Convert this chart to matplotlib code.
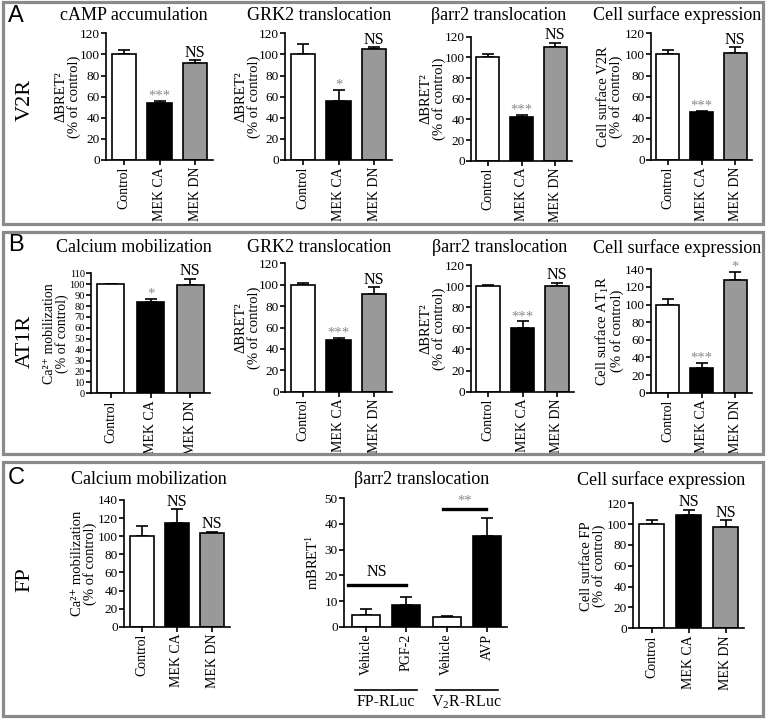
import numpy as np
import matplotlib
matplotlib.use("Agg")
import matplotlib.pyplot as plt
from matplotlib.patches import Rectangle

plt.rcParams["font.family"] = ["Liberation Serif", "DejaVu Serif"]
plt.rcParams["mathtext.fontset"] = "custom"
plt.rcParams["mathtext.rm"] = "Liberation Serif"
plt.rcParams["mathtext.it"] = "Liberation Serif:italic"

# ---- data ----
conditions = ["Control", "MEK CA", "MEK DN"]

a_camp, a_camp_err = [100, 54, 92], [4, 2, 2.5]
a_grk2, a_grk2_err = [100, 56, 105], [10, 10, 1.7]
a_barr2, a_barr2_err = [100, 42, 110], [3, 2.5, 4]
a_surface, a_surface_err = [100, 45, 101], [4, 1, 6]

b_calcium, b_calcium_err = [100, 84, 99], [0, 2.3, 6]
b_grk2, b_grk2_err = [100, 48, 91], [1.5, 2, 6.5]
b_barr2, b_barr2_err = [100, 60, 100], [1.5, 6.5, 3]
b_surface, b_surface_err = [100, 27.5, 128], [6.5, 6, 9.5]

c_calcium, c_calcium_err = [100, 115, 103], [11, 15, 2]
c_barr2_labels = ["Vehicle", "PGF-2", "Vehicle", "AVP"]
c_barr2, c_barr2_err = [4.5, 8.4, 3.7, 35.3], [2.5, 3.3, 0.3, 7.2]
c_barr2_groups = ["FP-RLuc", "V$_2$R-RLuc"]
c_surface, c_surface_err = [100, 109, 97.5], [3.5, 5, 6]

W, H = 768, 720
WHITE, BLACK, GREY = "white", "black", "#999999"
STAR = "#8a8a8a"

fig = plt.figure(figsize=(W / 100, H / 100), dpi=100)


def add_ax(l, t, r, b):
    return fig.add_axes([l / W, 1 - b / H, (r - l) / W, (b - t) / H])


def style(ax, ymax, step, labels, xlim, ytick_size):
    for s in ("top", "right"):
        ax.spines[s].set_visible(False)
    for s in ("left", "bottom"):
        ax.spines[s].set_linewidth(1.2)
    ax.set_ylim(0, ymax)
    ax.set_xlim(*xlim)
    ax.set_yticks(np.arange(0, ymax + 0.1, step))
    ax.set_xticks(np.arange(len(labels)))
    ax.set_xticklabels(labels, rotation=90)
    ax.tick_params(direction="out", length=3.5, width=1.2, pad=1.5)
    ax.tick_params(axis="y", labelsize=ytick_size, pad=1)
    ax.tick_params(axis="x", labelsize=10)


def bar_panel(ax, vals, errs, colors, ymax, step, labels, marks, ylabel, yl_off,
              xlim=(-0.5, 2.5), width=0.68, ytick_size=9.5, yl_size=10.5):
    x = np.arange(len(vals))
    ax.bar(x, vals, width=width, color=colors, edgecolor="black", linewidth=1.2, zorder=2)
    ax.errorbar(x, vals, yerr=[np.zeros(len(errs)), errs], fmt="none", ecolor="black",
                elinewidth=1.2, capsize=4.5, capthick=1.2, zorder=1)
    style(ax, ymax, step, labels, xlim, ytick_size)
    for xi, v, e, m in zip(x, vals, errs, marks):
        if not m:
            continue
        if m == "NS":
            ax.annotate(m, (xi, v + e), xytext=(0, 2.5), textcoords="offset points",
                        ha="center", va="baseline", fontsize=11.5)
        else:
            ax.annotate(m, (xi, v + e), xytext=(0, 1), textcoords="offset points",
                        ha="center", va="baseline", fontsize=10.5, color=STAR)
    bb = ax.get_position()
    ax.text(yl_off / (bb.width * W), 0.5, ylabel, transform=ax.transAxes, rotation=90,
            ha="center", va="center", multialignment="center", fontsize=yl_size,
            linespacing=0.95)


bret2 = "\u0394BRET\u00b2\n(% of control)"
calcium = "Ca\u00b2\u207a mobilization\n(% of control)"
cols3 = [WHITE, BLACK, GREY]

# ---- row A: V2R ----
bar_panel(add_ax(106, 33.3, 213, 160), a_camp, a_camp_err, cols3, 120, 20, conditions,
          ["", "***", "NS"], bret2, -38)
bar_panel(add_ax(285, 33.3, 392, 160), a_grk2, a_grk2_err, cols3, 120, 20, conditions,
          ["", "*", "NS"], bret2, -37)
bar_panel(add_ax(471, 36.7, 572, 160.7), a_barr2, a_barr2_err, cols3, 120, 20, conditions,
          ["", "***", "NS"], bret2, -38)
bar_panel(add_ax(651, 33.3, 752, 160), a_surface, a_surface_err, cols3, 120, 20, conditions,
          ["", "***", "NS"], "Cell surface V2R\n(% of control)", -41)

# ---- row B: AT1R ----
bar_panel(add_ax(91, 273.3, 210, 393.3), b_calcium, b_calcium_err, cols3, 110, 10, conditions,
          ["", "*", "NS"], calcium, -35, ytick_size=7.5, yl_size=10)
bar_panel(add_ax(285, 263.3, 392, 391.7), b_grk2, b_grk2_err, cols3, 120, 20, conditions,
          ["", "***", "NS"], bret2, -37)
bar_panel(add_ax(471, 265, 574, 391.7), b_barr2, b_barr2_err, cols3, 120, 20, conditions,
          ["", "***", "NS"], bret2, -38)
bar_panel(add_ax(651, 269.3, 752, 392.7), b_surface, b_surface_err, cols3, 140, 20, conditions,
          ["", "***", "*"], "Cell surface AT$_1$R\n(% of control)", -42)

# ---- row C: FP ----
bar_panel(add_ax(124, 500, 230, 626.7), c_calcium, c_calcium_err, cols3, 140, 20, conditions,
          ["", "NS", "NS"], calcium, -40)
ax_c2 = add_ax(344, 498.3, 507, 626.7)
bar_panel(ax_c2, c_barr2, c_barr2_err, [WHITE, BLACK, WHITE, BLACK], 50, 10, c_barr2_labels,
          ["", "", "", ""], "mBRET$^1$", -31, xlim=(-0.55, 3.5), width=0.7)
ax_c2.plot([-0.45, 1.0], [16.3, 16.3], color="black", lw=2.4)
ax_c2.text(0.28, 18.3, "NS", ha="center", va="bottom", fontsize=11.5)
ax_c2.plot([1.9, 2.98], [46, 46], color="black", lw=2.4)
ax_c2.text(2.44, 46.3, "**", ha="center", va="bottom", fontsize=10.5, color=STAR)
tr = ax_c2.get_xaxis_transform()
for gi, g in enumerate(c_barr2_groups):
    c = 0.5 + 2 * gi
    ax_c2.plot([c - 0.77, c + 0.77], [-0.49, -0.49], transform=tr, color="black",
               lw=1.2, clip_on=False)
    ax_c2.text(c, -0.59, g, transform=tr, ha="center", va="center", fontsize=11.5)
bar_panel(add_ax(633, 503.3, 744, 628.3), c_surface, c_surface_err, cols3, 120, 20, conditions,
          ["", "NS", "NS"], "Cell surface FP\n(% of control)", -40)

# ---- titles, row labels, panel letters, frames ----
titles = [
    (134, 15, "cAMP accumulation"), (319, 15, "GRK2 translocation"),
    (499, 15, "\u03b2arr2 translocation"), (677, 15, "Cell surface expression"),
    (134, 248, "Calcium mobilization"), (319, 248, "GRK2 translocation"),
    (500, 248, "\u03b2arr2 translocation"), (677, 248, "Cell surface expression"),
    (149, 480, "Calcium mobilization"), (422, 480, "\u03b2arr2 translocation"),
    (661, 480, "Cell surface expression"),
]
for x, y, t in titles:
    fig.text(x / W, 1 - y / H, t, ha="center", va="center", fontsize=13)

for y, t in [(100, "V2R"), (341, "AT1R"), (580, "FP")]:
    fig.text(25 / W, 1 - y / H, t, ha="center", va="center", rotation=90, fontsize=16)

for y, t in [(16, "A"), (245, "B"), (478, "C")]:
    fig.text(8 / W, 1 - y / H, t, ha="left", va="center", fontsize=17,
             family="Liberation Sans")

for top, bot in [(2, 224), (232, 454), (462, 716)]:
    fig.patches.append(Rectangle((3 / W, 1 - bot / H), 760 / W, (bot - top) / H,
                                 transform=fig.transFigure, fill=False,
                                 edgecolor="#8a8a8a", linewidth=2.3))

fig.savefig("out.png", dpi=100)
